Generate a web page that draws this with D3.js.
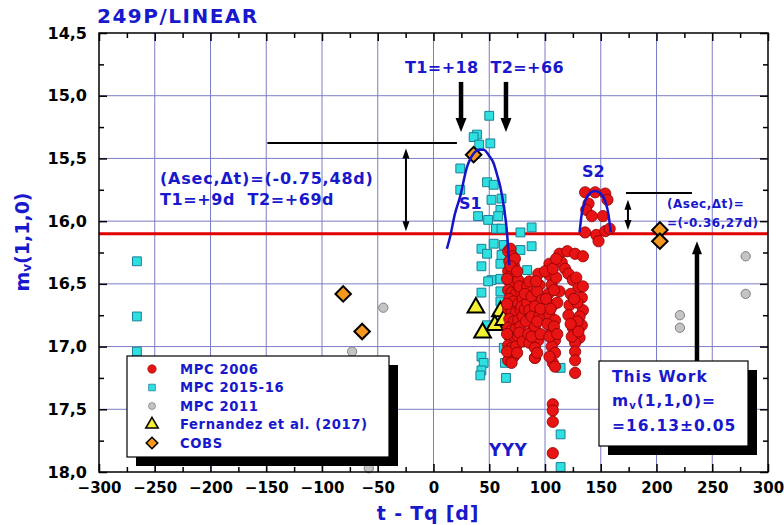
<!DOCTYPE html>
<html>
<head>
<meta charset="utf-8">
<script src="https://cdn.jsdelivr.net/npm/d3@7"></script>
<style>
  body { margin: 0; background: #fff; }
  svg text { font-family: "DejaVu Sans", Arial, sans-serif; font-weight: bold; }
</style>
</head>
<body>
<div id="chart"></div>
<script>
// ---- data: [t - Tq (d), m_v(1,1,0)] ----
const mpc2006 = [
  [136,15.77],[145,15.77],[154,15.78],[156,15.83],[139,15.86],[137,15.91],[142,15.96],[152,15.96],
  [136,16.09],[146,16.11],[154,16.08],[158,16.06],[148,16.16],
  [67,16.24],[69,16.22],[71,16.28],[68,16.32],[72,16.35],[67,16.40],[70,16.42],[74,16.44],[68,16.48],
  [72,16.50],[76,16.47],[67,16.55],[70,16.57],[74,16.58],[78,16.55],[68,16.62],[72,16.64],[76,16.66],
  [80,16.62],[67,16.70],[70,16.72],[74,16.73],[78,16.71],[68,16.78],[72,16.80],[76,16.79],[80,16.76],
  [67,16.85],[70,16.87],[74,16.86],[78,16.84],[68,16.92],[72,16.94],[76,16.92],[67,16.99],[70,17.01],
  [74,17.00],[68,17.06],[72,17.08],[67,17.11],[70,17.13],[66,16.46],[66,16.66],[66,16.90],[66,17.04],
  [73,16.30],[69,16.36],[75,16.40],[77,16.52],[79,16.68],[77,16.89],[75,17.05],[80,16.96],[82,16.70],
  [84,16.52],[84,16.65],[86,16.71],[89,16.87],[86,16.97],[91,17.09],[82,16.58],[88,16.60],[83,16.80],
  [86,16.48],[88,16.76],[85,16.90],
  [94,16.42],[95,16.51],[93,16.56],[97,16.63],[91,16.68],[95,16.76],[91,16.84],[94,16.95],[91,17.01],
  [91,17.09],[88,16.92],[92,16.48],[96,16.70],[93,16.80],[96,16.90],[93,17.05],
  [104,16.34],[104,16.43],[106,16.51],[103,16.58],[107,16.67],[104,16.75],[109,16.79],[106,16.87],
  [109,16.95],[106,17.00],[109,17.05],[107,17.13],[109,17.16],[113,16.56],[100,16.40],[101,16.62],
  [102,16.82],[110,16.45],[111,16.65],[107,16.38],[108,16.55],[105,16.70],[108,16.84],[104,16.92],
  [111,16.90],[104,17.08],
  [113,16.26],[120,16.24],[127,16.26],[134,16.28],[115,16.33],[118,16.38],[121,16.42],[110,16.30],
  [125,16.47],[130,16.53],[134,16.52],[133,16.61],[122,16.67],[134,16.71],[131,16.76],[133,16.83],
  [125,16.85],[131,16.93],[127,16.97],[127,17.04],[127,17.11],[127,17.21],[123,16.58],[121,16.75],
  [124,16.92],[129,16.65],[128,16.45],[126,16.62],[129,16.80],[123,16.82],[130,16.88],
  [107,17.46],[107,17.51],[107,17.60],[107,17.85]
];
const mpc2015 = [
  [-266,16.32],[-266,16.76],[-266,17.04],
  [50,15.16],[39,15.31],[36,15.33],[41,15.39],[51,15.38],[24,15.58],[24,15.75],[48,15.69],[54,15.71],
  [52,15.83],[61,15.82],[60,15.91],[40,15.96],[49,15.99],[58,15.96],[56,16.06],[61,16.06],[78,16.09],
  [88,16.05],[54,16.18],[43,16.22],[48,16.26],[63,16.19],[61,16.27],[78,16.23],[88,16.20],[43,16.36],
  [60,16.34],[84,16.39],[52,16.47],[60,16.46],[49,16.48],[43,16.57],[60,16.56],[60,16.64],[63,17.01],
  [43,17.08],[45,17.13],[43,17.19],[42,17.23],[64,17.13],[65,17.25],[48,16.83],
  [114,17.17],[114,17.70],[114,17.96]
];
const mpc2011 = [[-45,16.69],[-73,17.04],[-58,17.97],[280,16.28],[280,16.58],[221,16.75],[221,16.85]];
const fernandez = [[38,16.69],[60,16.72],[55,16.83],[44,16.89],[63,16.79]];
const cobs = [[36,15.47],[-81,16.58],[-64,16.88],[203,16.07],[203,16.16]];
const s1Curve = [[12,16.22],[15,16.12],[19,15.95],[24,15.80],[30,15.57],[36,15.46],[41,15.43],[45,15.43],
  [50,15.48],[54,15.54],[57,15.63],[60,15.73],[63,15.88],[66,16.10],[67,16.23],[68,16.35]];
const s2Curve = [[131,16.09],[133,15.94],[136,15.84],[140,15.78],[145,15.76],[150,15.78],[154,15.84],
  [157,15.95],[159,16.09]];
const refMag = 16.1;
const xMajor = d3.range(-300, 301, 50);
const xMinor = d3.range(-275, 300, 50);
const yMajor = [14.5, 15.0, 15.5, 16.0, 16.5, 17.0, 17.5, 18.0];
const yMinor = [14.75, 15.25, 15.75, 16.25, 16.75, 17.25, 17.75];

const W = 784, H = 525;
const pL = 99, pR = 768, pT = 33, pB = 472;
const blue = "#1818cc";

const svg = d3.select("#chart").append("svg").attr("width", W).attr("height", H);
const x = d3.scaleLinear().domain([-300, 300]).range([pL, pR]);
const y = d3.scaleLinear().domain([14.5, 18]).range([pT, pB]);

// grid
const grid = svg.append("g").attr("stroke", "#7d7dc6").attr("stroke-width", 1);
grid.selectAll(".gx").data(xMajor.slice(1, -1)).enter().append("line")
  .attr("x1", d => x(d)).attr("x2", d => x(d)).attr("y1", pT).attr("y2", pB);
grid.selectAll(".gy").data(yMajor.slice(1, -1)).enter().append("line")
  .attr("x1", pL).attr("x2", pR).attr("y1", d => y(d)).attr("y2", d => y(d));

// axes, ticks pointing inward
const fmtY = d => d3.format(".1f")(d).replace(".", ",");
function addAxis(axis, tr, labels, size) {
  const g = svg.append("g").attr("transform", tr).call(axis);
  g.select(".domain").remove();
  g.selectAll("line").attr("stroke", "#000").attr("stroke-width", 1.5);
  g.selectAll("text").attr("font-size", size || 16).attr("fill", "#000")
    .style("font-family", "DejaVu Sans, sans-serif").style("font-weight", "bold");
  if (!labels) g.selectAll("text").remove();
  return g;
}
addAxis(d3.axisBottom(x).tickValues(xMajor).tickSize(-8).tickPadding(10), `translate(0,${pB})`, true, 15);
addAxis(d3.axisBottom(x).tickValues(xMinor).tickSize(-5), `translate(0,${pB})`, false);
addAxis(d3.axisTop(x).tickValues(xMajor).tickSize(-8), `translate(0,${pT})`, false);
addAxis(d3.axisTop(x).tickValues(xMinor).tickSize(-5), `translate(0,${pT})`, false);
addAxis(d3.axisLeft(y).tickValues(yMajor).tickFormat(fmtY).tickSize(-8).tickPadding(12), `translate(${pL},0)`, true, 16);
addAxis(d3.axisLeft(y).tickValues(yMinor).tickSize(-5), `translate(${pL},0)`, false);
addAxis(d3.axisRight(y).tickValues(yMajor).tickSize(-8), `translate(${pR},0)`, false);
addAxis(d3.axisRight(y).tickValues(yMinor).tickSize(-5), `translate(${pR},0)`, false);

// reference line
svg.append("line").attr("x1", pL).attr("x2", pR).attr("y1", y(refMag)).attr("y2", y(refMag))
  .attr("stroke", "#e00000").attr("stroke-width", 3);

// markers
const sym = {
  circle: d3.symbol().type(d3.symbolCircle).size(100),
  grey: d3.symbol().type(d3.symbolCircle).size(68),
  square: d3.symbol().type(d3.symbolSquare).size(78),
  triangle: d3.symbol().type(d3.symbolTriangle).size(120),
  diamond: d3.symbol().type(d3.symbolSquare).size(120)
};
const rot = { diamond: " rotate(45)" };
function plotSeries(data, path, fill, stroke, sw, extra) {
  svg.append("g").selectAll("path").data(data).enter().append("path")
    .attr("transform", d => `translate(${x(d[0])},${y(d[1])})${extra || ""}`)
    .attr("d", path).attr("fill", fill).attr("stroke", stroke).attr("stroke-width", sw);
}
plotSeries(mpc2011, sym.grey(), "#c4c4c4", "#808080", 1);
plotSeries(mpc2015, sym.square(), "#2fe0e0", "#1b7f95", 1);
plotSeries(fernandez, sym.triangle(), "#f2f030", "#000", 2);
plotSeries(mpc2006, sym.circle(), "#e81414", "#8a0000", 0.8);
plotSeries(cobs, sym.diamond(), "#f5961e", "#000", 2, rot.diamond);

// fitted envelopes
const line = d3.line().x(d => x(d[0])).y(d => y(d[1])).curve(d3.curveMonotoneX);
[s1Curve, s2Curve].forEach(c => svg.append("path").attr("d", line(c))
  .attr("fill", "none").attr("stroke", "#1414c8").attr("stroke-width", 2.5));

// annotation arrows
function arrow(x1, y1, x2, y2, sw, hw, hl, both) {
  const g = svg.append("g");
  const ang = Math.atan2(y2 - y1, x2 - x1);
  const head = (px, py, a) => {
    const bx = px - hl * Math.cos(a), by = py - hl * Math.sin(a);
    const nx = -Math.sin(a) * hw / 2, ny = Math.cos(a) * hw / 2;
    g.append("path").attr("d", `M${px},${py}L${bx + nx},${by + ny}L${bx - nx},${by - ny}Z`).attr("fill", "#000");
  };
  const sx = both ? x1 + hl * 0.8 * Math.cos(ang) : x1, sy = both ? y1 + hl * 0.8 * Math.sin(ang) : y1;
  g.append("line").attr("x1", sx).attr("y1", sy)
    .attr("x2", x2 - hl * 0.8 * Math.cos(ang)).attr("y2", y2 - hl * 0.8 * Math.sin(ang))
    .attr("stroke", "#000").attr("stroke-width", sw);
  head(x2, y2, ang);
  if (both) head(x1, y1, ang + Math.PI);
}
const hline = (t1, t2, m) => svg.append("line").attr("x1", x(t1)).attr("x2", x(t2))
  .attr("y1", y(m)).attr("y2", y(m)).attr("stroke", "#000").attr("stroke-width", 2);

arrow(x(24.7), y(14.89), x(24.7), y(15.29), 4.5, 11, 14, false);
arrow(x(65), y(14.89), x(65), y(15.29), 4.5, 11, 14, false);
hline(-149, 21, 15.377);
arrow(x(-24.7), y(15.42), x(-24.7), y(16.08), 2, 7, 10, true);
hline(172.6, 231.8, 15.775);
arrow(x(174.4), y(15.83), x(174.4), y(16.07), 2, 7, 10, true);
arrow(x(236.3), y(17.12), x(236.3), y(16.16), 4.5, 10, 13, false);

// annotation text
function label(txt, px, py, size, opts = {}) {
  const t = svg.append("text").attr("x", px).attr("y", py).attr("font-size", size)
    .attr("fill", opts.fill || blue).attr("dominant-baseline", "central")
    .attr("text-anchor", opts.anchor || "start");
  if (opts.ls) t.attr("letter-spacing", opts.ls);
  t.text(txt);
  return t;
}
label("249P/LINEAR", 97, 16, 20, { ls: 1.5 });
label("T1=+18\u00a0\u00a0T2=+66", 405, 67, 16, { ls: 0.4 });
label("(Asec,\u0394t)=(-0.75,48d)", 160, 178, 16, { ls: 0.8 });
label("T1=+9d\u00a0\u00a0T2=+69d", 160, 199, 16, { ls: 0.6 });
label("S1", 459, 203, 16);
label("S2", 582, 171, 16);
label("(Asec,\u0394t)=", 667, 204, 12, { ls: 0.5 });
label("=(-0.36,27d)", 667, 223, 12, { ls: 0.5 });
label("YYY", 489, 450, 17, { ls: 0.5 });
label("t - Tq [d]", 428, 513, 19, { anchor: "middle", ls: 0.8 });

const yt = svg.append("text").attr("transform", "translate(22,242) rotate(-90)")
  .attr("text-anchor", "middle").attr("dominant-baseline", "central")
  .attr("font-size", 19).attr("fill", blue);
yt.append("tspan").text("m");
yt.append("tspan").attr("font-size", 12).attr("dy", 5).text("v");
yt.append("tspan").attr("dy", -5).text("(1,1,0)");

// legend
const legendItems = [
  { name: "MPC 2006", path: sym.circle(), fill: "#e81414", stroke: "#8a0000", sw: 0.8, r: "" },
  { name: "MPC 2015-16", path: sym.square(), fill: "#2fe0e0", stroke: "#1b7f95", sw: 1, r: "" },
  { name: "MPC 2011", path: sym.grey(), fill: "#c4c4c4", stroke: "#808080", sw: 1, r: "" },
  { name: "Fernandez et al. (2017)", path: sym.triangle(), fill: "#f2f030", stroke: "#000", sw: 2, r: "" },
  { name: "COBS", path: sym.diamond(), fill: "#f5961e", stroke: "#000", sw: 2, r: rot.diamond }
];
svg.append("rect").attr("x", 136).attr("y", 365).attr("width", 262).attr("height", 101).attr("fill", "#000");
svg.append("rect").attr("x", 127).attr("y", 356).attr("width", 262).attr("height", 101)
  .attr("fill", "#fff").attr("stroke", "#000").attr("stroke-width", 1.2);
const lg = svg.append("g").selectAll("g").data(legendItems).enter().append("g")
  .attr("transform", (d, i) => `translate(152,${369 + i * 18.5})`);
lg.append("path").attr("d", d => d.path).attr("fill", d => d.fill).attr("stroke", d => d.stroke)
  .attr("stroke-width", d => d.sw).attr("transform", d => "scale(0.75)" + d.r);
lg.append("text").attr("x", 28).attr("dominant-baseline", "central").attr("font-size", 13.2)
  .attr("letter-spacing", 0.6).attr("fill", blue).text(d => d.name);

// result box
svg.append("rect").attr("x", 608).attr("y", 370).attr("width", 149).attr("height", 85).attr("fill", "#000");
svg.append("rect").attr("x", 599).attr("y", 361).attr("width", 149).attr("height", 85)
  .attr("fill", "#fff").attr("stroke", "#000").attr("stroke-width", 1.2);
label("This Work", 612, 377, 15.5, { ls: 1 });
const mv = svg.append("text").attr("x", 612).attr("y", 401).attr("dominant-baseline", "central")
  .attr("font-size", 15.5).attr("letter-spacing", 1).attr("fill", blue);
mv.append("tspan").text("m");
mv.append("tspan").attr("font-size", 10).attr("dy", 4).text("v");
mv.append("tspan").attr("dy", -4).text("(1,1,0)=");
label("=16.13\u00b10.05", 612, 426, 15.5, { ls: 1 });

// frame
svg.append("rect").attr("x", pL).attr("y", pT).attr("width", pR - pL).attr("height", pB - pT)
  .attr("fill", "none").attr("stroke", "#000").attr("stroke-width", 1.5);
</script>
</body>
</html>
